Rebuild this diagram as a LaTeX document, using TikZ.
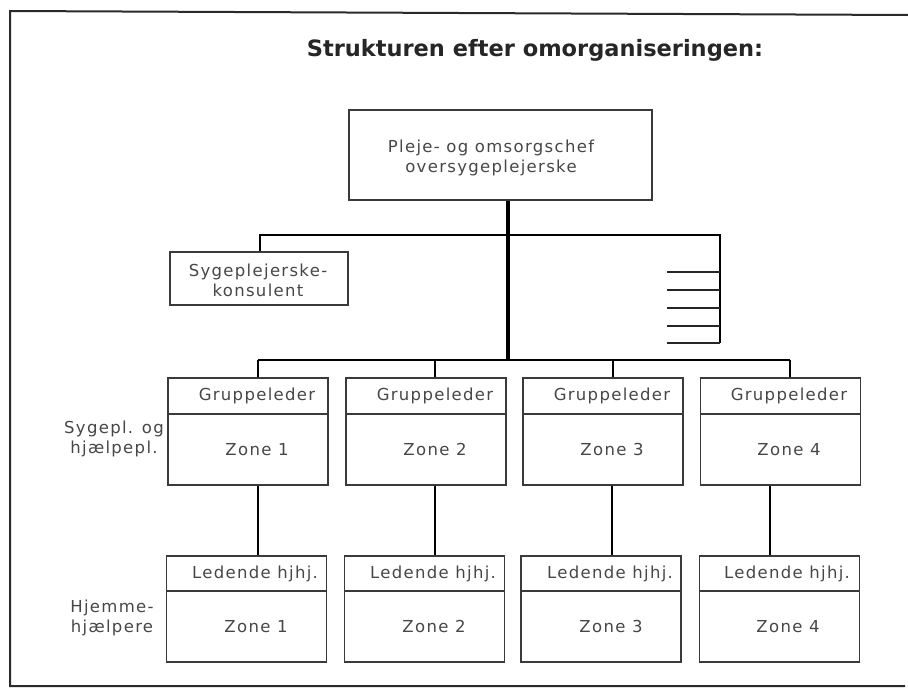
\documentclass[tikz,border=0pt]{standalone}
\usepackage{fontspec}
\newfontfamily\chartfont[LetterSpace=8]{DejaVu Sans}
\newfontfamily\titlefont{DejaVu Sans}
\definecolor{inkgray}{HTML}{474747}
\definecolor{boxgray}{HTML}{3A3A3A}
\definecolor{framegray}{HTML}{2A2A2A}
\begin{document}
\begin{tikzpicture}[x=1pt,y=-1pt,
  box/.style={draw=boxgray, line width=1.7pt, inner sep=0pt, minimum width=160pt},
  txt/.style={text=inkgray, inner sep=0pt, align=center,
    font=\chartfont\fontsize{16.5}{20}\selectfont},
  conn/.style={draw=black, line width=2.8pt},
  tick/.style={draw=black!85, line width=2.2pt}]
\fill[white] (0,0) rectangle (908,688);
\useasboundingbox (0,0) rectangle (908,688);

% page frame
\draw[framegray, line width=2pt] (908,15) -- (10,11) -- (10,686) -- (905,686);

% heading
\node[inner sep=0pt, text=black!85, font=\titlefont\bfseries\fontsize{22.5}{26}\selectfont]
  (title) at (535,50) {Strukturen efter omorganiseringen:};

% head of the organisation
\node[box, minimum width=303pt, minimum height=90pt] (chef) at (500.5,155) {};
\node[txt] (cheftext) at (491,157.5) {Pleje- og omsorgschef\\oversygeplejerske};

% staff position
\node[box, minimum width=178pt, minimum height=53pt] (kons) at (259,278.5) {};
\node[txt] (konstext) at (258,280) {Sygeplejerske-\\konsulent};

% zone groups: box centre, text x, upper link x, lower link x, lower box centre
\foreach \i/\cx/\tx/\ux/\dx/\lx in {1/248/257/258/258/246.5, 2/426/435/435/435/424.5,
                                     3/603/612/613/612/601, 4/780.5/789/790/770/779.5}{
  \node[box, minimum height=36pt] (gh\i) at (\cx,396) {};
  \node[box, minimum height=71pt] (gz\i) at (\cx,449.5) {};
  \node[txt] (ght\i) at (\tx,396) {Gruppeleder};
  \node[txt] (gzt\i) at (\tx,449.5) {Zone \i};
  \node[box, minimum height=35pt] (lh\i) at (\lx,573.5) {};
  \node[box, minimum height=71pt] (lz\i) at (\lx,626.5) {};
  \node[txt] (lht\i) at (\tx-2,573.5) {Ledende hjhj.};
  \node[txt] (lzt\i) at (\tx-1,626.5) {Zone \i};
  \coordinate (up\i) at (\ux,360);
  \coordinate (down\i) at (\dx,500);
  \draw[conn] (up\i) -- (up\i |- gh\i.north);
  \draw[conn] (down\i |- gz\i.south) -- (down\i |- lh\i.north);
}

% row labels
\node[txt] (rowA) at (114,439) {Sygepl. og\\hjælpepl.};
\node[txt] (rowB) at (112,618) {Hjemme-\\hjælpere};

% main connectors
\coordinate (hub) at (508,235);
\coordinate (bus) at (508,360);
\coordinate (barL) at (260,235);
\coordinate (barR) at (720,235);
\coordinate (stackEnd) at (720,343);
\draw[conn, line width=3.4pt] (chef.south -| hub) -- (bus);
\draw[conn] (kons.north -| barL) -- (barL) -- (barR) -- (stackEnd);
\draw[conn] (up1) -- (up4);

% stacked short lines on the right
\foreach \y in {272,290,308,326,343}{
  \coordinate (tk\y) at (667,\y);
  \draw[tick] (tk\y) -- (tk\y -| barR);
}
\end{tikzpicture}
\end{document}
